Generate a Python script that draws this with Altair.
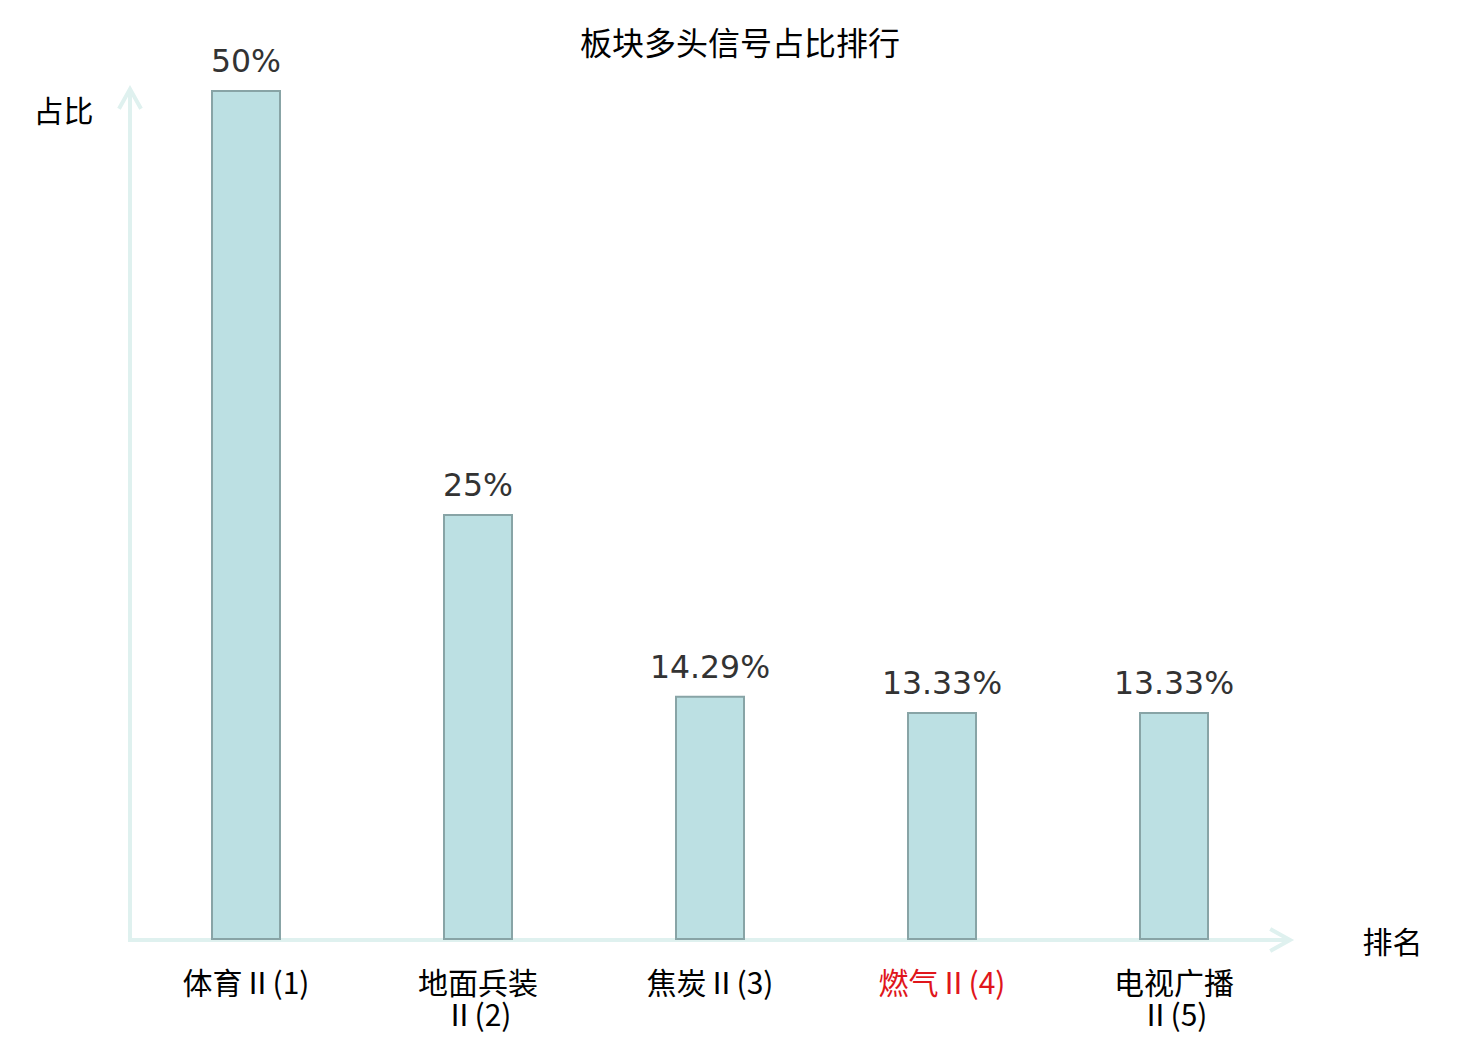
import altair as alt
import pandas as pd

categories = ["体育Ⅱ(1)", "地面兵装Ⅱ(2)", "焦炭Ⅱ(3)", "燃气Ⅱ(4)", "电视广播Ⅱ(5)"]
values = [0.50, 0.25, 0.1429, 0.1333, 0.1333]
value_labels = ["50%", "25%", "14.29%", "13.33%", "13.33%"]
highlight = "燃气Ⅱ(4)"
title_text = "板块多头信号占比排行"
y_title = "占比"
x_title = "排名"

df = pd.DataFrame({"cat": categories, "value": values, "label": value_labels})
one = pd.DataFrame({"a": [0]})

W, H = 1160, 848
AXIS_COL = "#dff1ef"
CJK = "Noto Sans CJK SC"
LABEL_FONT = "DejaVu Sans ExtraLight, Noto Sans CJK SC"

x_enc = alt.X(
    "cat:N",
    sort=categories,
    scale=alt.Scale(paddingInner=0, paddingOuter=0),
    axis=alt.Axis(
        domain=False, ticks=False, tickSize=0, grid=False, labelAngle=0,
        labelFont=LABEL_FONT, labelFontSize=30, labelPadding=30, labelLimit=400,
        labelColor={"condition": {"test": f"datum.value === '{highlight}'", "value": "#e0161b"}, "value": "#000000"},
        labelExpr="length(datum.label) > 7 ? [slice(datum.label, 0, 4), slice(datum.label, 4)] : datum.label",
        title=x_title, titleFont=CJK, titleFontSize=30, titleFontWeight="normal", titleColor="#000000",
        titleX=W + 102, titleY=4, titleAlign="center", titleBaseline="middle", titleAngle=0,
    ),
)
y_enc = alt.Y(
    "value:Q",
    scale=alt.Scale(domain=[0, 0.5], nice=False, zero=True),
    axis=alt.Axis(
        domain=False, ticks=False, labels=False, grid=False,
        title=y_title, titleFont=CJK, titleFontSize=30, titleFontWeight="normal", titleColor="#000000",
        titleX=-67, titleY=21, titleAlign="center", titleBaseline="middle", titleAngle=0,
    ),
)

y_line = alt.Chart(one).mark_rule(color=AXIS_COL, strokeWidth=4).encode(
    x=alt.value(0), y=alt.value(-2), y2=alt.value(H + 2)
)
x_line = alt.Chart(one).mark_rule(color=AXIS_COL, strokeWidth=4).encode(
    y=alt.value(H + 1), x=alt.value(-2), x2=alt.value(W)
)
up_arrow = alt.Chart(one).mark_point(
    shape="M-1,1.8L0,0L1,1.8", filled=False, size=484, strokeWidth=4, color=AXIS_COL, opacity=1
).encode(x=alt.value(0), y=alt.value(-2))
right_arrow = alt.Chart(one).mark_point(
    shape="M-1.8,-1L0,0L-1.8,1", filled=False, size=484, strokeWidth=4, color=AXIS_COL, opacity=1
).encode(x=alt.value(W), y=alt.value(H + 1))

bars = alt.Chart(df).mark_bar(size=68, fill="#bce0e3", stroke="#88a4a6", strokeWidth=2).encode(
    x=x_enc, y=y_enc
)
texts = alt.Chart(df).mark_text(
    dy=-19, baseline="alphabetic", fontSize=31.5, font="DejaVu Sans", color="#333333"
).encode(x=alt.X("cat:N", sort=categories), y="value:Q", text="label:N")

title = alt.Chart(one).mark_text(
    text=title_text, font=CJK, fontSize=32, color="#000000", baseline="middle", align="center"
).encode(x=alt.value(610), y=alt.value(-46))

chart = alt.layer(y_line, x_line, up_arrow, right_arrow, bars, texts, title).properties(
    width=W, height=H,
    autosize=alt.AutoSizeParams(type="none"),
    padding={"left": 122, "top": 83, "right": 182, "bottom": 93},
    background="white",
).configure_view(stroke=None)

chart.save("out.html", embed_options={"renderer": "svg", "actions": False})
